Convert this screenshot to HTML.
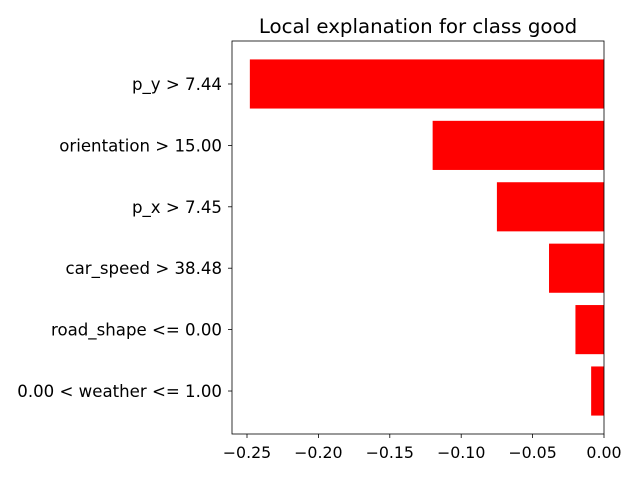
<!DOCTYPE html>
<html><head><meta charset="utf-8"><style>body{margin:0;background:#fff}svg{display:block}text{font-family:"DejaVu Sans","Liberation Sans",sans-serif;fill:#000}</style></head>
<body>
<svg id="chart" width="640" height="480" viewBox="0 0 640 480">
<text x="418" y="33" font-size="19.8" text-anchor="middle">Local explanation for class good</text>
<g id="bars"></g>
<g id="axes"></g>
</svg>
<script>
const categories = ["p_y > 7.44","orientation > 15.00","p_x > 7.45","car_speed > 38.48","road_shape <= 0.00","0.00 < weather <= 1.00"];
const values = [-0.248,-0.120,-0.075,-0.0385,-0.020,-0.009];
const xTicks = [-0.25,-0.20,-0.15,-0.10,-0.05,0.00];
const xTickLabels = ["\u22120.25","\u22120.20","\u22120.15","\u22120.10","\u22120.05","0.00"];
const NS="http://www.w3.org/2000/svg";
const L=232,R=604,T=41,B=434,xmin=-0.2605,xmax=0;
const x=v=>L+(v-xmin)/(xmax-xmin)*(R-L);
const n=categories.length;
const unit=(B-T)/(n-0.2+0.6);
const y=i=>T+(0.7+i)*unit;
function el(t,a,p){const e=document.createElementNS(NS,t);for(const k in a)e.setAttribute(k,a[k]);p.appendChild(e);return e;}
const bars=document.getElementById('bars'),axes=document.getElementById('axes');
categories.forEach((c,i)=>{
  const cy=y(i),h=0.8*unit;
  const r=el('rect',{x:x(values[i]),y:cy-h/2,width:x(0)-x(values[i]),height:h,fill:'#ff0000'},bars);
  
  
  el('line',{x1:L-4,x2:L,y1:cy,y2:cy,stroke:'#000','stroke-width':0.8},axes);
  const t=el('text',{x:L-10,y:cy+6,'font-size':'16.6','text-anchor':'end'},axes);
  t.textContent=c;
  
  
});
const f=el('rect',{x:L,y:T,width:R-L,height:B-T,fill:'none',stroke:'#000','stroke-width':0.8},axes);


xTicks.forEach((v,i)=>{
  el('line',{x1:x(v),x2:x(v),y1:B,y2:B+4,stroke:'#000','stroke-width':0.8},axes);
  const t=el('text',{x:x(v),y:B+24,'font-size':'15.8','text-anchor':'middle'},axes);
  t.textContent=xTickLabels[i];
  
  
});
</script>
</body></html>
